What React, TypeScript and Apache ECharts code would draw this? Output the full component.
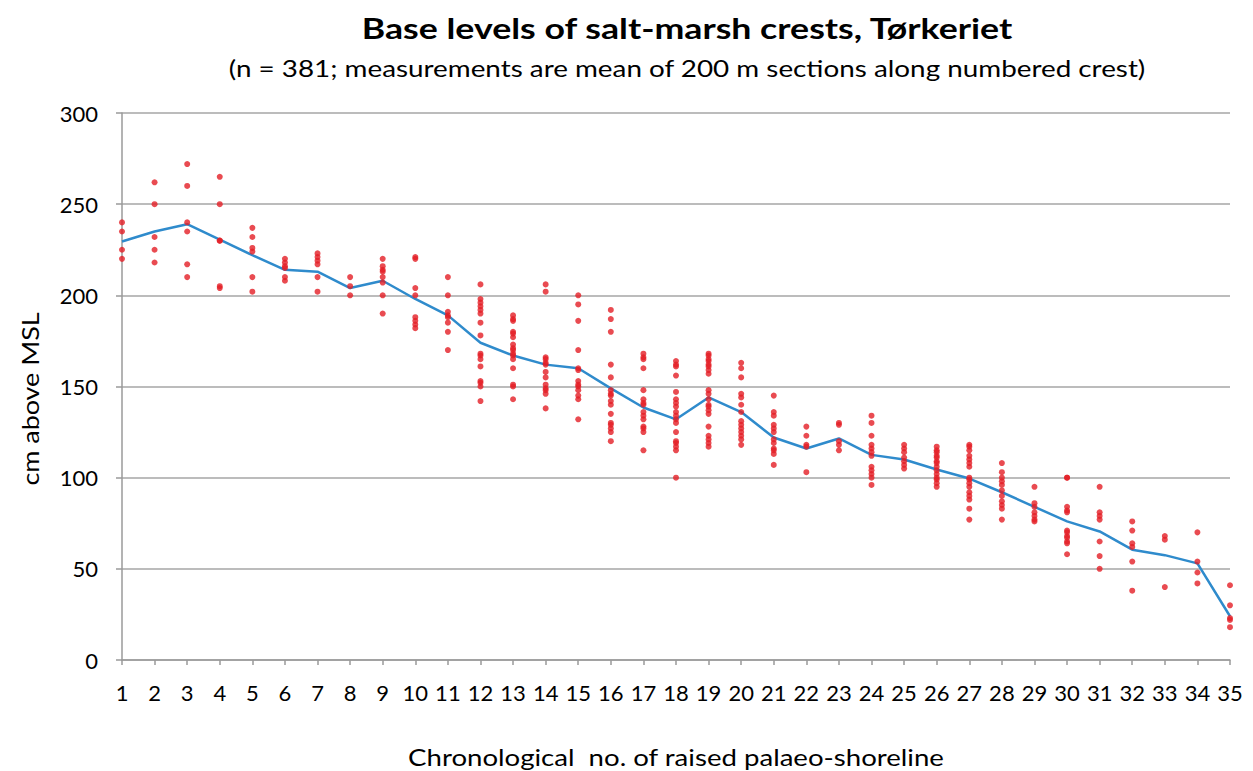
import React, { useEffect, useRef } from "react";
import * as echarts from "echarts";

const titleText = "Base levels of salt-marsh crests, Tørkeriet";
const subtitleText = "(n = 381; measurements are mean of 200 m sections along numbered crest)";
const yAxisName = "cm above MSL";
const xAxisName = "Chronological  no. of raised palaeo-shoreline";

const crestNumbers: string[] = Array.from({ length: 35 }, (_, i) => String(i + 1));
const yTicks = { min: 0, max: 300, interval: 50 };

// individual section levels per crest (cm above MSL)
const crestLevels: number[][] = [
  [240, 235, 225, 220],
  [262, 250, 232, 225, 218],
  [272, 260, 240, 235, 217, 210],
  [265, 250, 230, 230, 205, 204],
  [237, 232, 226, 224, 210, 202],
  [220, 218, 216, 215, 210, 208],
  [223, 221, 219, 217, 210, 202],
  [210, 205, 200],
  [220, 216, 214, 213, 210, 207, 200, 190],
  [221, 220, 204, 200, 188, 186, 184, 182],
  [210, 200, 191, 189, 188, 185, 180, 170],
  [206, 198, 196, 194, 192, 190, 185, 178, 168, 167, 165, 161, 153, 152, 150, 142],
  [189, 187, 186, 180, 179, 177, 173, 171, 170, 168, 167, 165, 160, 151, 150, 143],
  [206, 202, 166, 165, 163, 162, 158, 155, 151, 149, 148, 146, 138],
  [200, 195, 186, 170, 160, 159, 153, 151, 150, 148, 145, 143, 132],
  [192, 187, 180, 162, 155, 148, 146, 145, 142, 140, 135, 130, 129, 127, 125, 120],
  [168, 166, 165, 160, 148, 143, 141, 140, 136, 134, 132, 128, 127, 125, 115],
  [164, 162, 161, 156, 147, 143, 141, 139, 136, 134, 132, 130, 125, 120, 119, 117, 115, 100],
  [168, 167, 165, 164, 162, 161, 159, 157, 148, 146, 143, 140, 139, 137, 135, 128, 123, 121, 119, 117],
  [163, 160, 155, 146, 144, 140, 136, 131, 129, 127, 125, 123, 121, 118],
  [145, 136, 134, 129, 127, 125, 121, 119, 116, 115, 113, 107],
  [128, 123, 118, 117, 103],
  [130, 129, 120, 118, 115],
  [134, 130, 123, 118, 116, 114, 112, 106, 104, 102, 100, 96],
  [118, 116, 114, 111, 109, 107, 105],
  [117, 115, 114, 112, 111, 109, 108, 106, 104, 102, 100, 99, 97, 95],
  [118, 117, 115, 112, 110, 108, 106, 100, 99, 97, 95, 92, 90, 88, 83, 77],
  [108, 103, 100, 98, 96, 93, 90, 87, 85, 83, 77],
  [95, 86, 84, 81, 79, 77, 76],
  [100, 100, 84, 82, 81, 71, 70, 68, 67, 65, 64, 58],
  [95, 81, 79, 77, 65, 57, 50],
  [76, 71, 64, 62, 54, 38],
  [68, 66, 40],
  [70, 54, 48, 42],
  [41, 30, 23, 22, 18],
];

// mean level per crest (blue line)
const meanLevels: number[] = [
  229.5, 235, 239, 230.5, 222, 214, 213, 204, 208, 198,
  189, 174, 167, 162, 160, 149, 138.5, 132, 144, 136,
  122, 116, 121.5, 112.5, 110, 104.5, 99.5, 92, 84, 76,
  70.5, 60.5, 57.5, 53, 24,
];

const FONT = "Lato, 'Open Sans', sans-serif";

export default function App() {
  const ref = useRef<HTMLDivElement>(null);
  useEffect(() => {
    if (!ref.current) return;
    const chart = echarts.init(ref.current, undefined, { renderer: "svg" });
    const scatterData: [number, number][] = [];
    crestLevels.forEach((vals, i) => vals.forEach((v) => scatterData.push([i, v])));
    const label = (text: string, x: number, y: number, font: string, scaleX: number, rotation = 0) => ({
      type: "text",
      x,
      y,
      scaleX,
      rotation,
      style: {
        text,
        textAlign: "center",
        textVerticalAlign: "middle",
        font,
        fill: "#000000",
      },
    });
    chart.setOption({
      animation: false,
      backgroundColor: "#ffffff",
      textStyle: { fontFamily: FONT },
      graphic: [
        label(titleText, 687, 28, `bold 29px ${FONT}`, 1.23),
        label(subtitleText, 687, 68, `23px ${FONT}`, 1.21),
        label(xAxisName, 676, 757, `23px ${FONT}`, 1.2),
        label(yAxisName, 30, 399, `23px ${FONT}`, 1.17, Math.PI / 2),
      ],
      grid: { left: 122, right: 23, top: 113, bottom: 111, containLabel: false },
      xAxis: {
        type: "category",
        data: crestNumbers,
        boundaryGap: false,
        axisLine: { lineStyle: { color: "#9a9a9a", width: 1.5 } },
        axisTick: { show: true, length: 5, alignWithLabel: true, lineStyle: { color: "#9a9a9a", width: 1.5 } },
        axisLabel: { fontSize: 22, color: "#000", margin: 21, interval: 0, fontFamily: FONT },
        splitLine: { show: false },
      },
      yAxis: {
        type: "value",
        min: yTicks.min,
        max: yTicks.max,
        interval: yTicks.interval,
        axisLine: { show: true, lineStyle: { color: "#9a9a9a", width: 1.5 } },
        axisTick: { show: true, length: 6, lineStyle: { color: "#9a9a9a", width: 1.5 } },
        axisLabel: { fontSize: 22, color: "#000", margin: 24, fontFamily: FONT },
        splitLine: { show: true, lineStyle: { color: "#a6a6a6", width: 1.5 } },
      },
      series: [
        {
          type: "line",
          data: meanLevels,
          symbol: "none",
          lineStyle: { color: "#2f8bcc", width: 2.5 },
          z: 2,
        },
        {
          type: "scatter",
          data: scatterData,
          symbol: "circle",
          symbolSize: 6,
          itemStyle: { color: "#e41e26" },
          z: 3,
        },
      ],
    });
    return () => chart.dispose();
  }, []);
  return (
    <div
      ref={ref}
      style={{ position: "absolute", left: 0, top: 0, width: 1253, height: 771 }}
    />
  );
}
